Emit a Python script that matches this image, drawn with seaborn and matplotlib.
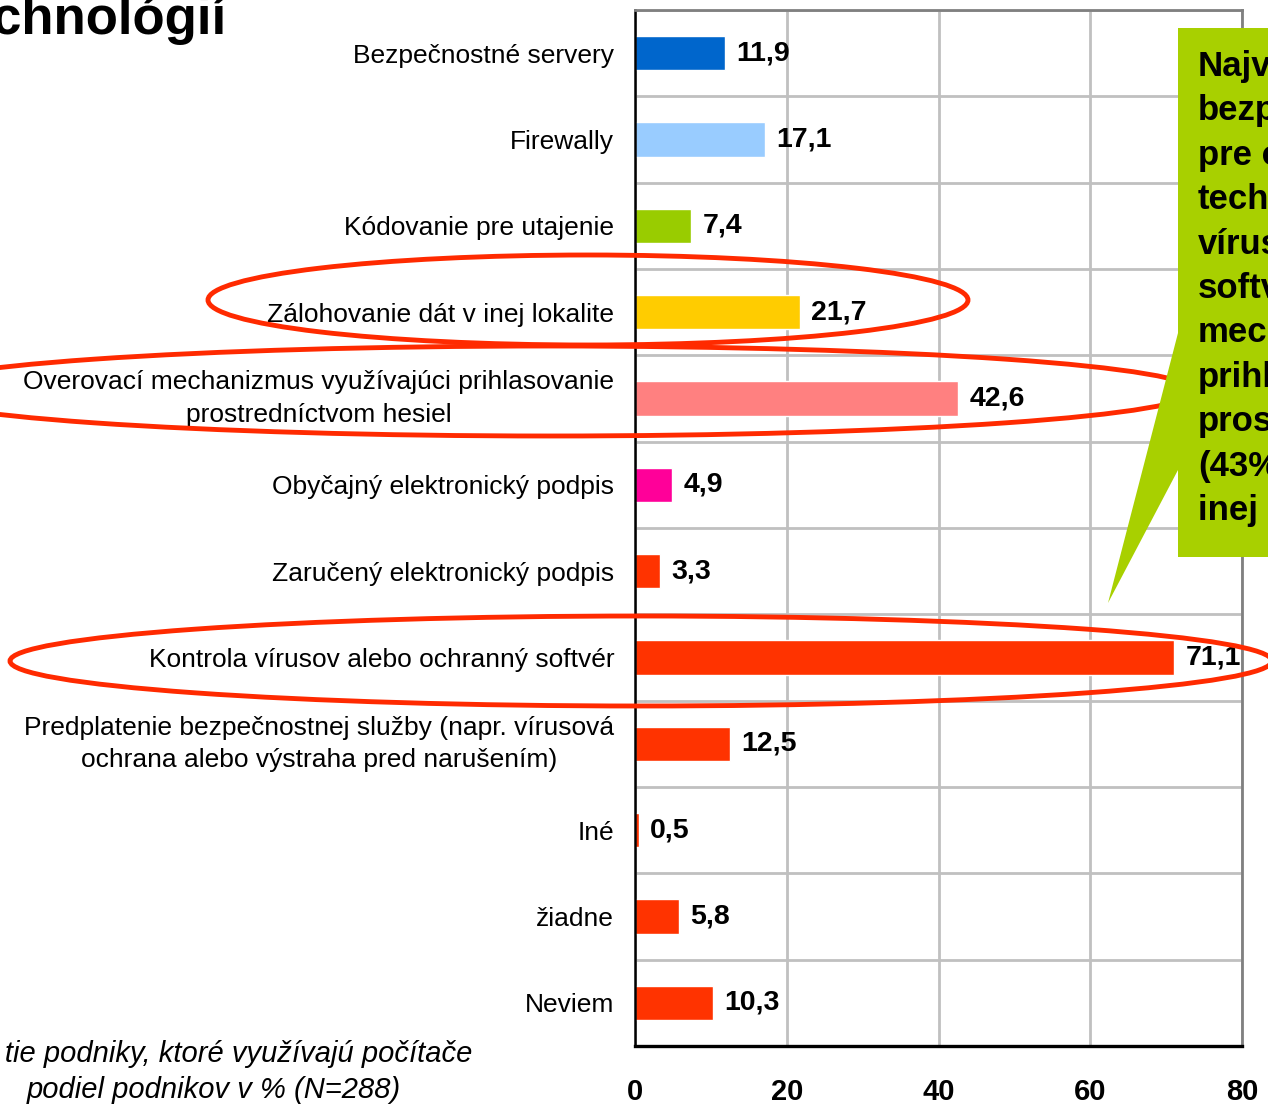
import numpy as np
import pandas as pd
import matplotlib
matplotlib.use("Agg")
import matplotlib.pyplot as plt
import seaborn as sns
from matplotlib.patches import Ellipse, Polygon

kategorie = [
    "Bezpečnostné servery",
    "Firewally",
    "Kódovanie pre utajenie",
    "Zálohovanie dát v inej lokalite",
    "Overovací mechanizmus využívajúci prihlasovanie\nprostredníctvom hesiel",
    "Obyčajný elektronický podpis",
    "Zaručený elektronický podpis",
    "Kontrola vírusov alebo ochranný softvér",
    "Predplatenie bezpečnostnej služby (napr. vírusová\nochrana alebo výstraha pred narušením)",
    "Iné",
    "žiadne",
    "Neviem",
]
podiel = [11.9, 17.1, 7.4, 21.7, 42.6, 4.9, 3.3, 71.1, 12.5, 0.5, 5.8, 10.3]
farby = ["#0066CC", "#99CCFF", "#99CC00", "#FFCC00", "#FF8080", "#FF0099",
         "#FF3300", "#FF3300", "#FF3300", "#FF3300", "#FF3300", "#FF3300"]
x_ticky = [0, 20, 40, 60, 80]

bublina = ["Najväčšie", "bezpečnostné", "pre ochranu", "technológie:", "vírusov",
           "softvér", "mechanizmus", "prihlasovanie", "prostredníctvom", "(43%)", "inej lokalite"]

sns.set_style("white")
plt.rcParams["font.family"] = ["Liberation Sans", "DejaVu Sans"]
plt.rcParams["text.color"] = "black"
plt.rcParams["xtick.color"] = "black"
plt.rcParams["ytick.color"] = "black"
plt.rcParams["xtick.labelcolor"] = "black"
plt.rcParams["ytick.labelcolor"] = "black"

W, H = 1268, 1109
fig = plt.figure(figsize=(W / 100, H / 100), dpi=100)


def px(x, y):
    return (x / W, 1 - y / H)


ax = fig.add_axes([635 / W, 1 - 1046 / H, (1242 - 635) / W, (1046 - 10) / H])

df = pd.DataFrame({"kategoria": kategorie, "podiel": podiel})
sns.barplot(data=df, x="podiel", y="kategoria", hue="kategoria", palette=farby,
            legend=False, width=0.4, orient="h", ax=ax, saturation=1)

ax.set_xlim(0, 80)
ax.set_ylim(11.5, -0.5)
ax.set_xticks(x_ticky)
ax.set_yticks(np.arange(-0.5, len(kategorie), 1), minor=True)
ax.set_xlabel("")
ax.set_ylabel("")

ax.set_axisbelow(True)
ax.xaxis.grid(True, which="major", color="#C0C0C0", lw=2)
ax.yaxis.grid(True, which="minor", color="#C0C0C0", lw=2)
ax.yaxis.grid(False, which="major")

ax.tick_params(axis="y", which="major", length=0, pad=15, labelsize=19)
ax.tick_params(axis="y", which="minor", length=6, width=1.5, direction="out", color="black")
ax.tick_params(axis="x", which="major", length=7, width=2, direction="out", pad=16,
               labelsize=21, color="black")
for t in ax.get_xticklabels():
    t.set_fontweight("bold")
for t in ax.get_yticklabels():
    if "\n" in t.get_text():
        t.set_multialignment("center")
        t.set_linespacing(1.45)
        t.set_verticalalignment("center")

for s in ["top", "right"]:
    ax.spines[s].set_color("#808080")
    ax.spines[s].set_linewidth(2)
ax.spines["left"].set_color("black")
ax.spines["left"].set_linewidth(1.8)
ax.spines["bottom"].set_color("black")
ax.spines["bottom"].set_linewidth(2.4)

for i, v in enumerate(podiel):
    ax.annotate(f"{v:.1f}".replace(".", ","), xy=(v, i), xytext=(8, 0),
                textcoords="offset points", va="center", ha="left",
                fontsize=20.5, fontweight="bold", clip_on=False)

# nadpis a poznamka (orezane ako na snimke)
fig.text(*px(226, 34), "Využívanie bezpečnostných technológií", ha="right",
         va="baseline", fontsize=38, fontweight="bold")
fig.text(*px(472, 1062), "Len tie podniky, ktoré využívajú počítače", ha="right",
         va="baseline", fontsize=21, style="italic")
fig.text(*px(214, 1098), "podiel podnikov v % (N=288)", ha="center",
         va="baseline", fontsize=21, style="italic")

# cervene elipsy
for cx, cy, w, h in [(588, 300, 760, 90), (550, 391, 1290, 90), (641, 661, 1262, 90)]:
    fig.add_artist(Ellipse(px(cx, cy), w / W, h / H, transform=fig.transFigure,
                           fill=False, ec="#FF2A00", lw=3.5, zorder=5))

# zelena bublina
body = [(1178, 28), (1300, 28), (1300, 557), (1178, 557), (1178, 470), (1108, 603), (1178, 333)]
fig.add_artist(Polygon([px(x, y) for x, y in body], closed=True, transform=fig.transFigure,
                       fc="#A8D000", ec="none", zorder=6))
for k, riadok in enumerate(bublina):
    fig.text(*px(1198, 76 + 44.4 * k), riadok, ha="left", va="baseline",
             fontsize=25, fontweight="bold", zorder=7)

fig.savefig("out.png", dpi=100)
